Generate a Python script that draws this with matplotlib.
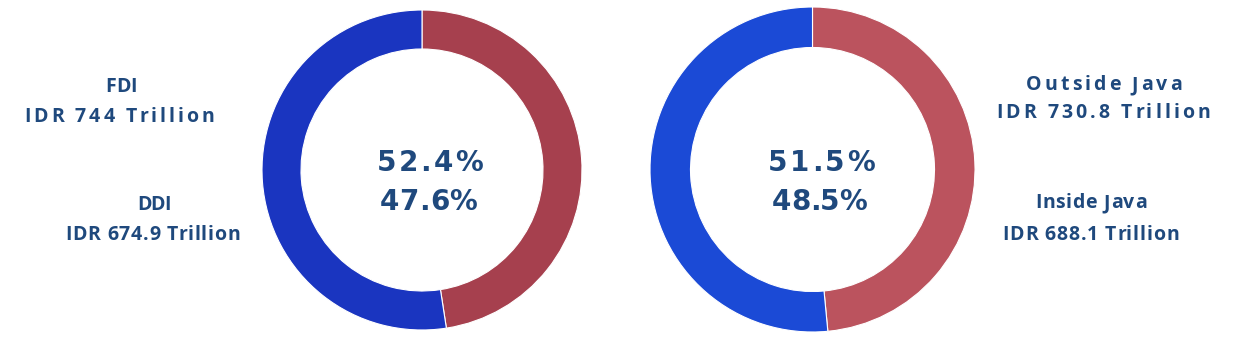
import matplotlib.pyplot as plt

# data
left_labels = ['FDI', 'DDI']
left_values = [744, 674.9]
left_pct = ['52.4%', '47.6%']
right_labels = ['Outside Java', 'Inside Java']
right_values = [730.8, 688.1]
right_pct = ['51.5%', '48.5%']

W, H = 1252, 348
TEXT = '#1f497d'

fig = plt.figure(figsize=(W / 100, H / 100), dpi=100)
renderer = fig.canvas.get_renderer()


def donut(cx, cy, r, rin, values, colors):
    ax = fig.add_axes([(cx - r) / W, (H - cy - r) / H, 2 * r / W, 2 * r / H])
    # smaller share (second value) drawn clockwise from the top
    ax.pie([values[1], values[0]], colors=colors, startangle=90, counterclock=False,
           radius=1, wedgeprops=dict(width=1 - rin / r, edgecolor='white', linewidth=0.8))
    ax.set_xlim(-1, 1)
    ax.set_ylim(-1, 1)
    ax.set_aspect('equal')
    ax.axis('off')
    return ax


def text_w(s, size, font):
    t = fig.text(0, 0, s + '|', fontsize=size, fontweight='bold', family=font)
    w = t.get_window_extent(renderer).width
    t.remove()
    t = fig.text(0, 0, '|', fontsize=size, fontweight='bold', family=font)
    w -= t.get_window_extent(renderer).width
    t.remove()
    return w


def label(x0, x1, y, s, size, font='Open Sans'):
    # letter-spaced text stretched between x0 and x1 (pixels)
    natural = text_w(s, size, font)
    extra = (x1 - x0 - natural) / (len(s) - 1)
    for i, ch in enumerate(s):
        if ch == ' ':
            continue
        x = x0 + (text_w(s[:i], size, font) if i else 0) + i * extra
        fig.text(x / W, 1 - y / H, ch, ha='left', va='center', fontsize=size,
                 fontweight='bold', color=TEXT, family=font)


donut(422, 170, 160, 121, left_values, ['#a6404e', '#1a35c0'])
donut(812.5, 169.5, 162.5, 122, right_values, ['#bb535e', '#1b4ad6'])

# centre percentages
label(377, 483, 163, left_pct[0], 20, 'DejaVu Sans')
label(380, 477, 202, left_pct[1], 20, 'DejaVu Sans')
label(768, 875, 163, right_pct[0], 20, 'DejaVu Sans')
label(772, 867, 202, right_pct[1], 20, 'DejaVu Sans')

# side labels
label(105, 137, 87, left_labels[0], 14)
label(24, 214, 117, 'IDR %g Trillion' % left_values[0], 14)
label(137, 171, 205, left_labels[1], 14)
label(65, 240, 235, 'IDR %g Trillion' % left_values[1], 14)

label(1026, 1182, 85, right_labels[0], 14)
label(996, 1210, 113, 'IDR %g Trillion' % right_values[0], 14)
label(1035, 1147, 203, right_labels[1], 14)
label(1002, 1179, 235, 'IDR %g Trillion' % right_values[1], 14)

fig.savefig('out.png', dpi=100)
